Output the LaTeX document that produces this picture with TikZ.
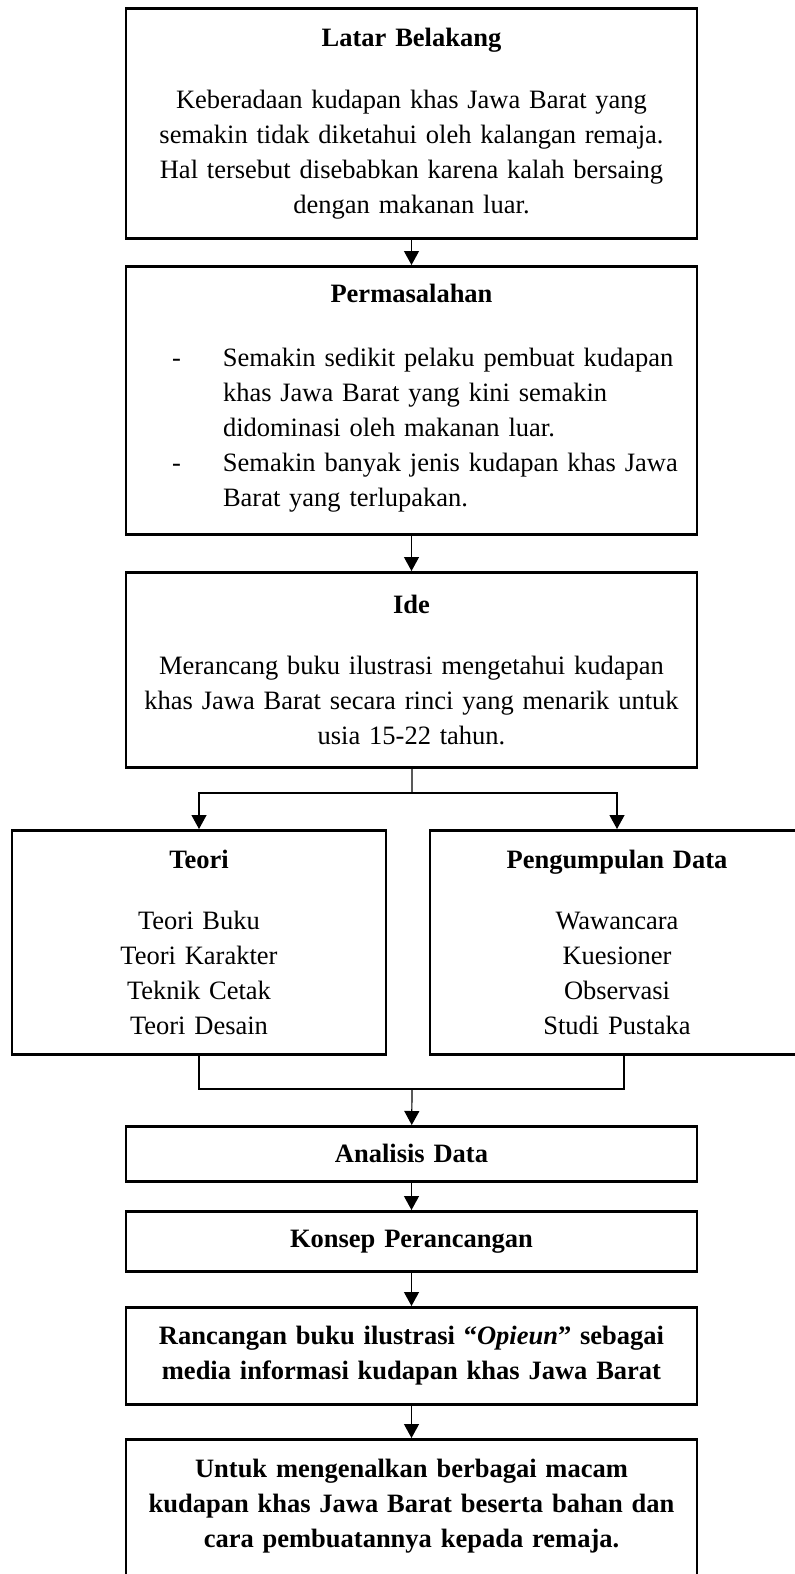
\documentclass[tikz,border=0pt]{standalone}
\usepackage{fontspec}
\setmainfont{Liberation Serif}
\usetikzlibrary{arrows.meta}

\begin{document}
\begin{tikzpicture}[x=1pt,y=-1pt,
	kotak/.style={draw,line width=2.6pt,inner xsep=0pt,inner ysep=4pt,text width=#1,align=center,anchor=north,font=\fontsize{26.5}{35}\selectfont},
	kotak/.default=571pt,
	panah/.style={-{Triangle[length=14pt,width=15pt]},line width=1.2pt},
	garis/.style={line width=1.2pt}]
	\useasboundingbox (0,0) rectangle (795,1574);
	\node[kotak,minimum height=230pt] (latar) at (411.5,7) {\textbf{Latar Belakang}\\[27pt]
		Keberadaan kudapan khas Jawa Barat yang\\
		semakin tidak diketahui oleh kalangan remaja.\\
		Hal tersebut disebabkan karena kalah bersaing\\
		dengan makanan luar.};
	\node[kotak,minimum height=268pt] (masalah) at (411.5,265) {\textbf{Permasalahan}\\[29pt]
		\makebox[571pt][l]{\hspace{46pt}\begin{tabular}[t]{@{}p{51pt}@{}l@{}}
		- & Semakin sedikit pelaku pembuat kudapan\\
		  & khas Jawa Barat yang kini semakin\\
		  & didominasi oleh makanan luar.\\
		- & Semakin banyak jenis kudapan khas Jawa\\
		  & Barat yang terlupakan.
		\end{tabular}}};
	\node[kotak,minimum height=195pt] (ide) at (411.5,571) {\textbf{Ide}\\[26pt]
		Merancang buku ilustrasi mengetahui kudapan\\
		khas Jawa Barat secara rinci yang menarik untuk\\
		usia 15-22 tahun.};
	\node[kotak=374pt,minimum height=224pt] (teori) at (199,829) {\textbf{Teori}\\[26pt]
		Teori Buku\\ Teori Karakter\\ Teknik Cetak\\ Teori Desain};
	\node[kotak=374pt,minimum height=224pt] (data) at (617,829) {\textbf{Pengumpulan Data}\\[26pt]
		Wawancara\\ Kuesioner\\ Observasi\\ Studi Pustaka};
	\node[kotak,minimum height=55pt,font=\fontsize{26.5}{35}\selectfont\bfseries] (analisis) at (411.5,1125) {Analisis Data};
	\node[kotak,minimum height=60pt,font=\fontsize{26.5}{35}\selectfont\bfseries] (konsep) at (411.5,1210) {Konsep Perancangan};
	\node[kotak,minimum height=97pt,font=\fontsize{26.5}{35}\selectfont\bfseries] (rancangan) at (411.5,1306) {Rancangan buku ilustrasi “\textit{Opieun}” sebagai\\
		media informasi kudapan khas Jawa Barat};
	\node[kotak,minimum height=163pt,font=\fontsize{26.5}{35}\selectfont\bfseries] (tujuan) at (411.5,1438) {Untuk mengenalkan berbagai macam\\
		kudapan khas Jawa Barat beserta bahan dan\\
		cara pembuatannya kepada remaja.\\ \mbox{}};
	\coordinate (cabang) at (412,793);
	\coordinate (gabung) at (412,1089);
	\draw[panah] (latar) -- (masalah);
	\draw[panah] (masalah) -- (ide);
	\draw[garis] (ide) -- (cabang);
	\draw[panah] (cabang) -| (teori);
	\draw[panah] (cabang) -| (data);
	\draw[garis] (teori.south) |- (gabung) -| ([xshift=7pt]data.south);
	\draw[panah] (gabung) -- (analisis);
	\draw[panah] (analisis) -- (konsep);
	\draw[panah] (konsep) -- (rancangan);
	\draw[panah] (rancangan) -- (tujuan);
\end{tikzpicture}
\end{document}
